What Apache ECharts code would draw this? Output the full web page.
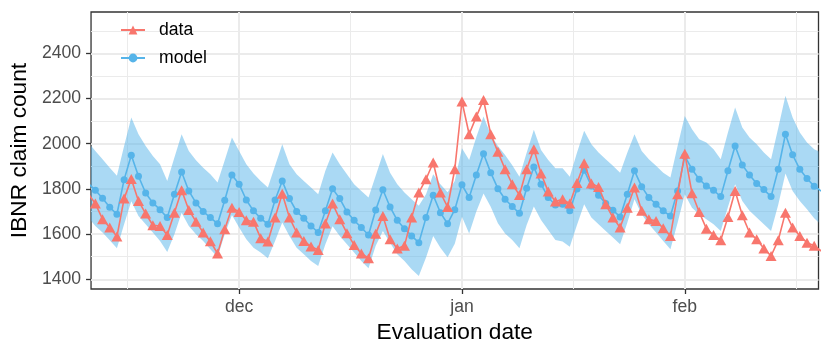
<!DOCTYPE html>
<html><head><meta charset="utf-8">
<script src="https://cdn.jsdelivr.net/npm/echarts@6/dist/echarts.min.js"></script>
<style>html,body{margin:0;padding:0;background:#fff}#c{width:830px;height:356px}</style>
</head><body><div id="c"></div>
<script>
// x = day index, 0 = 10 Nov, 21 = 1 Dec, 52 = 1 Jan, 83 = 1 Feb
const monthTickDays = [21, 52, 83];
const monthTickLabels = ['dec', 'jan', 'feb'];
const minorDayBreaks = [5.5, 36.5, 67.5, 98.5];
const yTickValues = [1400, 1600, 1800, 2000, 2200, 2400];
const yMinorValues = [1500, 1700, 1900, 2100, 2300, 2500];

const dataCounts = [
  1780,1735,1666,1629,1589,1757,1844,1747,1691,1639,1636,
  1596,1694,1794,1707,1655,1607,1568,1514,1621,1717,
  1698,1661,1655,1582,1567,1673,1779,1673,1607,1570,
  1545,1530,1647,1735,1666,1604,1552,1514,1493,1602,
  1680,1577,1536,1548,1673,1784,1843,1917,1784,1720,
  1887,2187,2042,2120,2194,2042,1964,1887,1821,1773,
  1887,1976,1868,1788,1744,1754,1735,1826,1914,1824,
  1809,1732,1673,1629,1717,1806,1703,1666,1658,1626,
  1592,1776,1956,1781,1698,1624,1596,1573,1676,1791,
  1683,1607,1577,1536,1503,1573,1695,1629,1592,1562,
  1548,1525
];
const modelCounts = [
  1825,1794,1759,1719,1688,1841,1949,1856,1782,1738,1708,
  1673,1776,1875,1791,1738,1700,1673,1646,1750,1862,
  1821,1751,1703,1670,1644,1751,1835,1757,1700,1670,
  1636,1607,1703,1801,1757,1698,1661,1629,1596,1707,
  1796,1720,1661,1624,1592,1562,1673,1772,1695,1646,
  1708,1818,1762,1862,1956,1872,1801,1754,1722,1692,
  1803,1897,1821,1762,1729,1732,1703,1800,1883,1813,
  1772,1735,1706,1676,1776,1880,1810,1762,1732,1703,
  1680,1791,1945,1887,1843,1813,1794,1766,1880,1990,
  1906,1862,1824,1797,1766,1887,2042,1951,1887,1846,
  1812,1790
];
const modelUpper = [
  2006,1968,1931,1894,1858,1990,2116,2042,1990,1946,1909,
  1835,1939,2042,1968,1927,1894,1865,1828,1927,2027,
  1968,1909,1868,1835,1806,1902,1998,1909,1865,1835,
  1806,1776,1880,1961,1909,1865,1821,1791,1762,1858,
  1954,1872,1821,1784,1754,1725,1776,1865,1821,1785,
  1835,1980,1928,2030,2120,2040,1990,1950,1905,1854,
  1960,2062,1972,1928,1891,1891,1854,1960,2057,1998,
  1961,1931,1902,1872,1960,2042,1968,1931,1902,1872,
  1850,1990,2123,2064,2020,2005,1976,1931,2050,2160,
  2072,2027,1998,1961,1931,2070,2212,2116,2050,2005,
  1976,1960
];
const modelLower = [
  1674,1636,1607,1573,1537,1644,1745,1680,1644,1607,1570,
  1521,1599,1695,1636,1599,1570,1533,1499,1599,1685,
  1629,1577,1540,1518,1493,1570,1651,1592,1540,1511,
  1481,1459,1555,1635,1592,1555,1518,1481,1449,1548,
  1614,1562,1511,1481,1444,1415,1496,1592,1540,1498,
  1557,1677,1603,1700,1780,1721,1648,1603,1574,1537,
  1640,1722,1662,1618,1574,1567,1544,1640,1732,1673,
  1644,1614,1585,1555,1650,1754,1688,1644,1607,1570,
  1533,1650,1776,1717,1688,1666,1644,1614,1720,1821,
  1747,1703,1673,1644,1614,1730,1868,1791,1747,1710,
  1670,1640
];

const dayIndex = dataCounts.map((_, i) => i);
const RED = '#F8766D', BLUE = '#56B4E9';
const FONT = 'Liberation Sans, Arial, Helvetica, sans-serif';
const xMin = 0.4, xMax = 101.6, yMin = 1357, yMax = 2583;

const chart = echarts.init(document.getElementById('c'), null, {renderer: 'canvas'});
chart.setOption({
  animation: false,
  backgroundColor: '#ffffff',
  textStyle: {fontFamily: FONT},
  grid: {left: 89.6, right: 11.5, top: 12, bottom: 67, show: true,
         borderColor: '#333333', borderWidth: 1.3, backgroundColor: 'transparent'},
  legend: {
    orient: 'vertical', left: 115, top: 16, itemWidth: 24, itemHeight: 11, itemGap: 10,
    data: ['data', 'model'],
    textStyle: {fontSize: 17.6, color: '#000', fontFamily: FONT, padding: [0, 0, 0, 9]}
  },
  xAxis: [{
    type: 'value', min: xMin, max: xMax, position: 'bottom',
    name: 'Evaluation date', nameLocation: 'middle', nameGap: 29,
    nameTextStyle: {fontSize: 22.7, color: '#000', fontFamily: FONT},
    axisLine: {show: false},
    axisTick: {show: true, length: 5, customValues: monthTickDays, lineStyle: {color: '#333333', width: 1.3}},
    axisLabel: {customValues: monthTickDays, margin: 9, fontSize: 17.6, color: '#4D4D4D', fontFamily: FONT,
      formatter: v => monthTickLabels[monthTickDays.indexOf(Math.round(v))] || ''},
    splitLine: {show: true, lineStyle: {color: '#EBEBEB', width: 2}}
  }, {
    type: 'value', min: xMin, max: xMax, position: 'top',
    axisLine: {show: false}, axisLabel: {show: false},
    axisTick: {show: false, customValues: minorDayBreaks},
    splitLine: {show: true, lineStyle: {color: '#EBEBEB', width: 1}}
  }],
  yAxis: [{
    type: 'value', min: yMin, max: yMax, position: 'left',
    name: 'IBNR claim count', nameLocation: 'middle', nameGap: 50,
    nameTextStyle: {fontSize: 22.7, color: '#000', fontFamily: FONT},
    axisLine: {show: false},
    axisTick: {show: true, length: 5, customValues: yTickValues, lineStyle: {color: '#333333', width: 1.3}},
    axisLabel: {customValues: yTickValues, margin: 10, fontSize: 17.6, color: '#4D4D4D', fontFamily: FONT,
      formatter: v => String(Math.round(v))},
    splitLine: {show: true, lineStyle: {color: '#EBEBEB', width: 2}}
  }, {
    type: 'value', min: yMin, max: yMax, position: 'right',
    axisLine: {show: false}, axisLabel: {show: false},
    axisTick: {show: false, customValues: yMinorValues},
    splitLine: {show: true, lineStyle: {color: '#EBEBEB', width: 1}}
  }],
  series: [
    {
      name: 'band', type: 'custom', silent: true, z: 1,
      data: [[dayIndex[0], modelLower[0]]],
      renderItem: (params, api) => {
        const up = dayIndex.map((d, i) => api.coord([d, modelUpper[i]]));
        const lo = dayIndex.map((d, i) => api.coord([d, modelLower[i]])).reverse();
        const cs = params.coordSys;
        return {
          type: 'polygon',
          shape: {points: up.concat(lo)},
          style: {fill: 'rgba(86,180,233,0.5)', stroke: null},
          clipPath: {type: 'rect', shape: {x: cs.x, y: cs.y, width: cs.width, height: cs.height}}
        };
      }
    },
    {
      name: 'model', type: 'line',
      data: dayIndex.map((d, i) => [d, modelCounts[i]]),
      symbol: 'circle', symbolSize: 7, showAllSymbol: true,
      itemStyle: {color: BLUE}, lineStyle: {color: BLUE, width: 1.6}, z: 3
    },
    {
      name: 'data', type: 'line',
      data: dayIndex.map((d, i) => [d, dataCounts[i]]),
      symbol: 'triangle', symbolSize: [11, 10], showAllSymbol: true,
      itemStyle: {color: RED}, lineStyle: {color: RED, width: 1.6}, z: 4
    }
  ]
});
</script>
</body></html>
